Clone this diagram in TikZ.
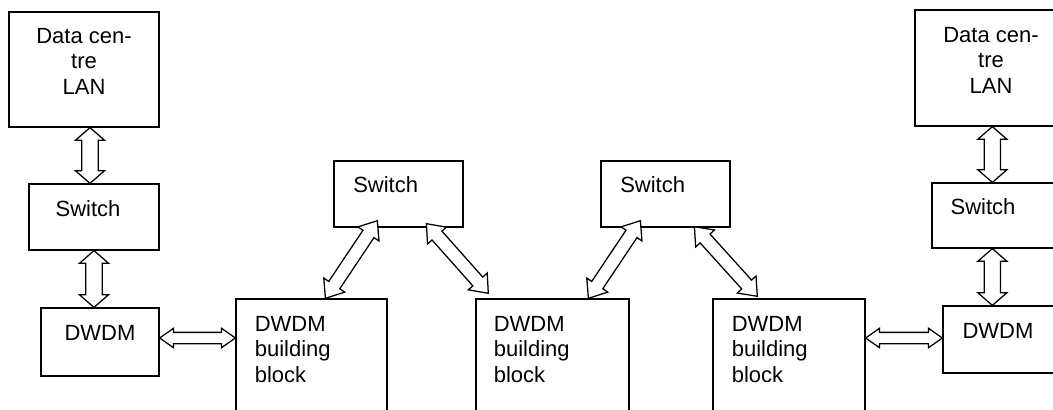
\documentclass[tikz,border=0pt]{standalone}
\usepackage{fontspec}
\setmainfont{Liberation Sans}
\usetikzlibrary{positioning, fit, calc, shapes.arrows}

\tikzset{
  box/.style={draw, line width=0.9pt, inner sep=0pt},
  lbl/.style={inner sep=0pt, font=\fontsize{15.65}{18}\selectfont},
  dblarr/.style={draw, line width=0.9pt, fill=white, double arrow, inner xsep=0pt},
  vtarr/.style={inner ysep=0.1875cm, double arrow head extend=0.1625cm, double arrow tip angle=98},
  hzarr/.style={inner ysep=0.125cm, double arrow head extend=0.1cm, double arrow tip angle=70},
  dgarr/.style={inner ysep=0.15cm, double arrow head extend=0.15cm, double arrow tip angle=77}
}

% hollow two-headed arrow between two points
\newcommand{\dblarrow}[3][]{%
  \path let \p1=(#2), \p2=(#3),
    \n1={veclen((\x2)-(\x1),(\y2)-(\y1))}, \n2={atan2((\y2)-(\y1),(\x2)-(\x1))} in
    node[dblarr, #1, minimum height=\n1, rotate=\n2] at ($(\p1)!0.5!(\p2)$) {};}

\begin{document}
\begin{tikzpicture}[x=0.025cm, y=-0.025cm]
  \useasboundingbox (0,0) rectangle (1053,409);
  \clip (0,0) rectangle (1053,409);

  % left site
  \node[box, fit={(9,12) (159,127)}] (lanL) {};
  \node[box, fit={(29,184) (159,250)}] (swL) {};
  \node[box, fit={(41,308) (159,376)}] (dwL) {};
  \node[lbl, align=center, anchor=north] (lanL-t) at (84,28) {Data cen-\\tre\\LAN};
  \node[lbl, anchor=north] (swL-t) at (88,200) {Switch};
  \node[lbl, anchor=north] (dwL-t) at (100,325) {DWDM};

  % building blocks (cut off at the bottom)
  \node[box, fit={(236,299) (387,430)}] (bbA) {};
  \node[box, fit={(476,299) (629,430)}] (bbB) {};
  \node[box, fit={(713,299) (865,430)}] (bbC) {};
  \foreach \b/\x in {A/254.5, B/493.5, C/731.5}
    \node[lbl, align=left, anchor=north west] (bb\b-t) at (\x,316) {DWDM\\building\\block};

  % core switches
  \node[box, fit={(334,161) (463,227)}] (swA) {};
  \node[box, fit={(601,161) (730,227)}] (swB) {};
  \node[lbl, anchor=north west] (swA-t) at (353,176) {Switch};
  \node[lbl, anchor=north west] (swB-t) at (620,176) {Switch};

  % right site
  \node[box, fit={(915,10) (1065,126)}] (lanR) {};
  \node[box, fit={(932,183) (1065,248)}] (swR) {};
  \node[box, fit={(943,306) (1065,373)}] (dwR) {};
  \node[lbl, align=center, anchor=north] (lanR-t) at (991,27) {Data cen-\\tre\\LAN};
  \node[lbl, anchor=north] (swR-t) at (983,198) {Switch};
  \node[lbl, anchor=north] (dwR-t) at (998,323) {DWDM};

  % arrow ends
  \coordinate (a1) at ($(lanL.south)+(6,0)$);
  \coordinate (a3) at ($(dwL.east)+(0,-4)$);
  \coordinate (a6) at ($(dwR.west)+(0,-1.5)$);
  \coordinate (a7) at ($(lanR.south west)+(78,0)$);
  \coordinate (a8) at ($(swR.south west)+(61,0)$);
  \coordinate (dA1) at ($(swA.south west)+(44,-7)$);
  \coordinate (dA2) at ($(bbA.north west)+(90,0)$);
  \coordinate (dB1) at ($(swA.south west)+(93,-4)$);
  \coordinate (dB2) at ($(bbB.north west)+(13,-5)$);
  \coordinate (dC1) at ($(swB.south west)+(40,-7)$);
  \coordinate (dC2) at ($(bbB.north west)+(113,0)$);
  \coordinate (dD1) at ($(swB.south west)+(94,-1)$);
  \coordinate (dD2) at ($(bbC.north west)+(45,-2)$);

  % arrows
  \dblarrow[vtarr]{a1}{a1 |- swL.north}
  \dblarrow[vtarr]{swL.south}{swL.south |- dwL.north}
  \dblarrow[hzarr]{a3}{a3 -| bbA.west}
  \foreach \d in {A,B,C,D}{
    \dblarrow[dgarr]{d\d1}{d\d2}
  }
  \dblarrow[hzarr]{a6 -| bbC.east}{a6}
  \dblarrow[vtarr]{a7}{a7 |- swR.north}
  \dblarrow[vtarr]{a8}{a8 |- dwR.north}
\end{tikzpicture}
\end{document}
